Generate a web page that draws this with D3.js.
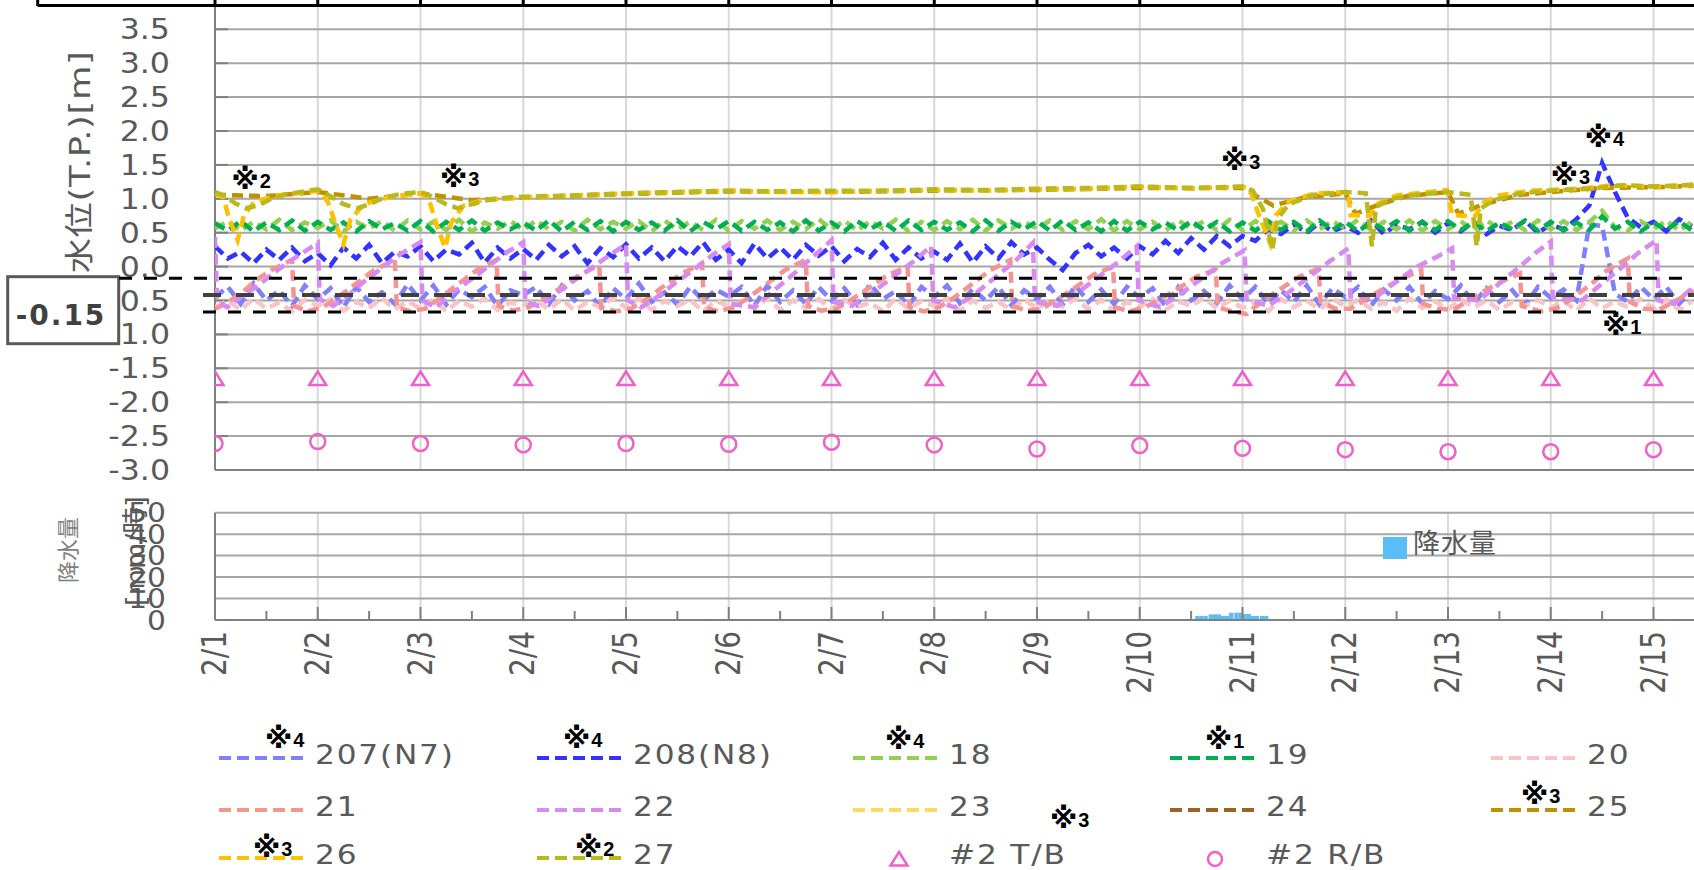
<!DOCTYPE html>
<html>
<head>
<meta charset="utf-8">
<script src="https://cdn.jsdelivr.net/npm/d3@7"></script>
<style>
  body { margin: 0; background: #fff; }
  svg { display: block; }
  text { font-family: "DejaVu Sans", "Noto Sans CJK JP", sans-serif; fill: #595959; }
  .note { font-family: "Liberation Sans", "DejaVu Sans", sans-serif; font-weight: bold; fill: #000; font-size: 20px; }
  .note .mark { font-family: "DejaVu Sans", "Noto Sans CJK JP", sans-serif; font-size: 28px; }
</style>
</head>
<body>
<svg id="chart" width="1694" height="870"></svg>
<script>
// Categories and ticks
var dayLabels = ['2/1','2/2','2/3','2/4','2/5','2/6','2/7','2/8','2/9','2/10','2/11','2/12','2/13','2/14','2/15']
var levelTicks = [3.5, 3.0, 2.5, 2.0, 1.5, 1.0, 0.5, 0.0, -0.5, -1.0, -1.5, -2.0, -2.5, -3.0]
var rainTicks = [50, 40, 30, 20, 10, 0]

// 3-hourly readings (8 per day, from 2/1 0:00)
var s207 = [
  -0.45,-0.30,-0.55,-0.25,-0.50,-0.35,-0.58,-0.28,
  -0.48,-0.32,-0.60,-0.30,-0.52,-0.38,-0.55,-0.26,
  -0.50,-0.28,-0.56,-0.34,-0.45,-0.30,-0.58,-0.35,
  -0.42,-0.30,-0.55,-0.28,-0.50,-0.36,-0.60,-0.32,
  -0.48,-0.25,-0.52,-0.38,-0.56,-0.30,-0.50,-0.34,
  -0.44,-0.30,-0.58,-0.28,-0.52,-0.35,-0.55,-0.30,
  -0.50,-0.32,-0.56,-0.26,-0.48,-0.36,-0.58,-0.30,
  -0.45,-0.28,-0.54,-0.33,-0.50,-0.30,-0.57,-0.35,
  -0.48,-0.30,-0.56,-0.28,-0.52,-0.34,-0.55,-0.30,
  -0.46,-0.32,-0.58,-0.30,-0.50,-0.36,-0.54,-0.28,
  -0.48,-0.30,-0.55,-0.35,-0.52,-0.28,-0.56,-0.32,
  -0.45,-0.30,-0.58,-0.34,-0.50,-0.30,-0.55,-0.36,
  -0.48,-0.28,-0.54,-0.32,-0.52,-0.35,-0.57,-0.30,
  -0.46,-0.34,-0.50,0.62,0.60,-0.40,-0.52,-0.30,
  -0.48,-0.30,-0.55,-0.35
]
var s208 = [
  0.30,0.12,0.22,0.05,0.25,0.10,0.28,0.08,
  0.20,0.02,0.28,0.12,0.32,0.05,0.22,0.15,
  0.30,0.08,0.25,0.18,0.35,0.06,0.28,0.12,
  0.26,0.10,0.32,0.15,0.30,0.05,0.27,0.14,
  0.33,0.12,0.28,0.08,0.30,0.15,0.36,0.10,
  0.25,0.05,0.34,0.12,0.28,0.10,0.32,0.16,
  0.30,0.08,0.26,0.14,0.35,0.10,0.28,0.12,
  0.22,0.10,0.34,0.06,0.30,0.12,0.36,0.18,
  0.28,0.10,-0.05,0.20,0.32,0.15,0.28,0.12,
  0.30,0.18,0.38,0.20,0.42,0.25,0.45,0.30,
  0.45,0.38,0.55,0.48,0.62,0.50,0.65,0.52,
  0.60,0.50,0.68,0.48,0.62,0.55,0.66,0.50,
  0.64,0.52,0.66,0.48,0.60,0.54,0.68,0.50,
  0.62,0.55,0.70,0.90,1.53,1.10,0.72,0.58,
  0.66,0.52,0.70,0.60
]
var s18 = [
  0.56,0.67,0.53,0.66,0.55,0.69,0.54,0.65,
  0.57,0.68,0.52,0.66,0.56,0.67,0.53,0.68,
  0.55,0.66,0.54,0.69,0.52,0.65,0.56,0.67,
  0.54,0.68,0.55,0.66,0.53,0.69,0.55,0.66,
  0.56,0.67,0.52,0.68,0.55,0.66,0.54,0.69,
  0.53,0.67,0.56,0.68,0.54,0.66,0.55,0.70,
  0.55,0.68,0.53,0.67,0.56,0.69,0.52,0.66,
  0.54,0.67,0.55,0.69,0.53,0.68,0.56,0.66,
  0.56,0.68,0.54,0.67,0.55,0.70,0.53,0.67,
  0.55,0.66,0.53,0.68,0.56,0.67,0.54,0.69,
  0.54,0.67,0.56,0.66,0.53,0.68,0.55,0.67,
  0.56,0.69,0.54,0.66,0.55,0.68,0.53,0.67,
  0.55,0.67,0.53,0.68,0.56,0.66,0.54,0.68,
  0.55,0.67,0.54,0.66,0.82,0.58,0.53,0.67,
  0.55,0.68,0.53,0.66
]
var s19 = [
  0.64,0.53,0.67,0.52,0.65,0.54,0.68,0.53,
  0.66,0.54,0.65,0.52,0.67,0.55,0.64,0.53,
  0.67,0.52,0.66,0.54,0.68,0.53,0.65,0.55,
  0.65,0.53,0.68,0.52,0.66,0.54,0.67,0.52,
  0.66,0.54,0.65,0.53,0.68,0.52,0.66,0.55,
  0.67,0.53,0.66,0.54,0.65,0.52,0.68,0.53,
  0.65,0.52,0.67,0.55,0.66,0.53,0.68,0.54,
  0.66,0.54,0.65,0.52,0.68,0.53,0.66,0.55,
  0.67,0.53,0.68,0.54,0.65,0.52,0.67,0.53,
  0.66,0.55,0.65,0.53,0.67,0.54,0.66,0.52,
  0.65,0.53,0.67,0.54,0.66,0.52,0.68,0.54,
  0.66,0.52,0.65,0.55,0.67,0.53,0.66,0.54,
  0.67,0.54,0.66,0.52,0.65,0.55,0.68,0.53,
  0.66,0.53,0.65,0.54,0.74,0.56,0.66,0.52,
  0.65,0.54,0.67,0.53
]
var s20 = [
  -0.60,-0.50,-0.64,-0.47,-0.62,-0.53,-0.66,-0.49,
  -0.58,-0.48,-0.65,-0.52,-0.61,-0.46,-0.63,-0.51,
  -0.62,-0.49,-0.66,-0.50,-0.59,-0.47,-0.64,-0.53,
  -0.57,-0.50,-0.63,-0.48,-0.65,-0.52,-0.60,-0.46,
  -0.61,-0.47,-0.64,-0.51,-0.58,-0.49,-0.66,-0.50,
  -0.59,-0.52,-0.62,-0.46,-0.64,-0.50,-0.61,-0.48,
  -0.63,-0.49,-0.60,-0.53,-0.66,-0.47,-0.62,-0.51,
  -0.58,-0.46,-0.65,-0.50,-0.61,-0.52,-0.64,-0.48,
  -0.62,-0.50,-0.59,-0.47,-0.63,-0.49,-0.66,-0.52,
  -0.60,-0.48,-0.64,-0.51,-0.58,-0.46,-0.62,-0.50,
  -0.61,-0.52,-0.66,-0.48,-0.60,-0.50,-0.63,-0.47,
  -0.59,-0.49,-0.62,-0.53,-0.65,-0.47,-0.61,-0.51,
  -0.63,-0.48,-0.60,-0.50,-0.64,-0.52,-0.58,-0.49,
  -0.61,-0.50,-0.65,-0.47,-0.62,-0.51,-0.60,-0.48,
  -0.62,-0.49,-0.64,-0.51
]

// [day, level] vertices for the sawtooth / drawdown wells
var s21 = [
  [0.00,-0.62],[0.10,-0.55],[0.25,-0.40],[0.40,-0.20],[0.55,-0.05],[0.75,0.10],[0.77,-0.58],[0.90,-0.66],[1.05,-0.60],
  [1.20,-0.45],[1.40,-0.22],[1.55,-0.05],[1.75,0.10],[1.77,-0.60],[1.90,-0.66],[2.05,-0.62],
  [2.20,-0.45],[2.40,-0.22],[2.55,-0.05],[2.74,0.10],[2.76,-0.58],[2.90,-0.65],[3.05,-0.60],
  [3.20,-0.48],[3.40,-0.28],[3.55,-0.12],[3.74,0.02],[3.76,-0.60],[3.90,-0.66],[4.05,-0.62],
  [4.20,-0.48],[4.40,-0.25],[4.55,-0.10],[4.74,0.05],[4.76,-0.60],[4.90,-0.66],[5.05,-0.60],
  [5.20,-0.45],[5.40,-0.22],[5.55,-0.05],[5.75,0.10],[5.77,-0.58],[5.90,-0.65],[6.05,-0.62],
  [6.20,-0.48],[6.40,-0.28],[6.55,-0.12],[6.74,0.00],[6.76,-0.60],[6.90,-0.66],[7.05,-0.60],
  [7.20,-0.45],[7.40,-0.22],[7.55,-0.05],[7.74,0.10],[7.76,-0.58],[7.90,-0.65],[8.05,-0.62],
  [8.20,-0.48],[8.40,-0.28],[8.55,-0.12],[8.74,0.00],[8.76,-0.60],[8.90,-0.66],[9.05,-0.60],
  [9.20,-0.48],[9.40,-0.30],[9.55,-0.15],[9.74,-0.05],[9.76,-0.60],[9.90,-0.66],[10.04,-0.70],
  [10.20,-0.50],[10.40,-0.30],[10.55,-0.15],[10.74,-0.03],[10.76,-0.52],[10.90,-0.62],[11.05,-0.62],
  [11.20,-0.48],[11.40,-0.30],[11.55,-0.18],[11.74,-0.05],[11.76,-0.55],[11.90,-0.62],[12.05,-0.64],
  [12.20,-0.50],[12.40,-0.32],[12.55,-0.20],[12.70,-0.10],[12.72,-0.58],[12.90,-0.66],[13.05,-0.62],
  [13.20,-0.48],[13.40,-0.25],[13.55,-0.05],[13.75,0.12],[13.77,-0.52],[13.90,-0.62],[14.05,-0.64],
  [14.20,-0.52],[14.39,-0.35]
]
var s22 = [
  [0.00,0.44],[0.02,-0.50],[0.12,-0.60],[0.25,-0.45],[0.40,-0.30],[0.55,-0.12],[0.70,0.05],[0.85,0.20],[1.00,0.35],
  [1.02,-0.48],[1.15,-0.58],[1.30,-0.42],[1.45,-0.22],[1.60,-0.05],[1.80,0.18],[2.00,0.36],
  [2.02,-0.50],[2.15,-0.60],[2.30,-0.40],[2.50,-0.18],[2.70,0.05],[2.85,0.22],[3.00,0.36],
  [3.02,-0.52],[3.15,-0.58],[3.30,-0.42],[3.50,-0.20],[3.70,0.02],[3.85,0.18],[4.00,0.33],
  [4.02,-0.50],[4.15,-0.60],[4.30,-0.45],[4.50,-0.22],[4.70,0.00],[4.85,0.18],[5.00,0.33],
  [5.02,-0.55],[5.25,-0.60],[5.40,-0.40],[5.60,-0.15],[5.80,0.12],[6.00,0.39],
  [6.02,-0.52],[6.20,-0.58],[6.40,-0.38],[6.60,-0.15],[6.80,0.08],[6.97,0.30],
  [6.99,-0.50],[7.20,-0.60],[7.40,-0.40],[7.60,-0.15],[7.80,0.10],[7.96,0.35],
  [7.98,-0.52],[8.20,-0.58],[8.40,-0.38],[8.60,-0.15],[8.80,0.08],[8.97,0.30],
  [8.99,-0.50],[9.20,-0.60],[9.40,-0.40],[9.60,-0.18],[9.80,0.05],[10.02,0.24],
  [10.04,-0.48],[10.25,-0.58],[10.45,-0.38],[10.65,-0.15],[10.85,0.08],[11.03,0.27],
  [11.05,-0.44],[11.30,-0.45],[11.50,-0.22],[11.70,0.00],[11.90,0.15],[12.04,0.27],
  [12.06,-0.46],[12.30,-0.50],[12.50,-0.25],[12.70,0.00],[12.85,0.20],[13.00,0.37],
  [13.02,-0.45],[13.30,-0.50],[13.50,-0.25],[13.70,0.00],[13.85,0.20],[14.03,0.39],
  [14.05,-0.50],[14.20,-0.55],[14.39,-0.30]
]
var s23 = []
var s24 = []
var s25 = [
  [0.00,1.06],[0.50,1.04],[1.00,1.10],[1.50,1.00],[2.00,1.08],[2.50,0.98],[3.00,1.02],[4.00,1.07],
  [5.00,1.11],[6.00,1.10],[7.00,1.12],[8.00,1.13],[9.00,1.16],[10.00,1.16],[10.30,0.90],[10.60,1.02],
  [11.00,1.08],[11.10,0.78],[11.30,0.90],[11.60,1.04],[12.00,1.10],[12.10,0.78],[12.35,0.92],[12.70,1.06],
  [13.00,1.10],[13.50,1.16],[14.00,1.17],[14.39,1.19]
]
var s26 = [
  [0.00,1.08],[0.08,1.02],[0.14,0.70],[0.22,0.39],[0.28,0.75],[0.38,0.95],[0.60,1.05],[0.90,1.10],
  [1.02,1.12],[1.10,0.95],[1.18,0.60],[1.25,0.33],[1.32,0.70],[1.45,0.92],[1.70,1.03],[2.00,1.08],
  [2.08,1.00],[2.16,0.60],[2.24,0.28],[2.30,0.65],[2.42,0.90],[2.60,0.98],[3.00,1.02],[3.50,1.05],
  [4.00,1.08],[4.50,1.10],[5.00,1.12],[5.50,1.10],[6.00,1.10],[6.50,1.12],[7.00,1.13],[7.50,1.12],
  [8.00,1.14],[8.50,1.15],[9.00,1.18],[9.50,1.15],[10.00,1.18],[10.07,1.15],[10.15,0.80],[10.27,0.34],
  [10.32,0.75],[10.45,0.96],[10.70,1.08],[11.03,1.10],[11.05,0.76],[11.24,0.75],[11.32,0.93],[11.50,1.05],
  [11.99,1.13],[12.04,0.76],[12.26,0.74],[12.35,0.95],[12.50,1.05],[12.80,1.12],[13.30,1.15],[13.60,1.20],
  [14.00,1.18],[14.39,1.20]
]
var s27 = [
  [0.00,1.10],[0.10,1.04],[0.20,0.93],[0.30,0.86],[0.42,0.90],[0.55,1.00],[0.70,1.07],[1.00,1.14],
  [1.10,1.06],[1.25,0.92],[1.38,0.86],[1.50,0.92],[1.65,1.02],[1.80,1.07],[2.00,1.10],
  [2.10,1.04],[2.25,0.92],[2.36,0.86],[2.50,0.92],[2.65,0.98],[2.85,1.02],[3.20,1.04],
  [3.50,1.05],[4.00,1.08],[4.50,1.10],[5.00,1.12],[5.50,1.11],[6.00,1.12],[6.50,1.12],[7.00,1.14],
  [7.50,1.13],[8.00,1.15],[8.50,1.16],[9.00,1.18],[9.50,1.16],[10.00,1.18],
  [10.10,1.12],[10.20,0.85],[10.29,0.25],[10.34,0.70],[10.45,0.92],[10.70,1.06],[11.00,1.10],[11.20,1.08],
  [11.26,0.30],[11.30,0.88],[11.45,1.00],[11.70,1.06],[12.00,1.10],[12.22,1.06],[12.28,0.30],[12.32,0.86],
  [12.45,0.98],[12.70,1.08],[13.00,1.12],[13.40,1.15],[13.70,1.20],[14.00,1.18],[14.39,1.21]
]

// daily manual readings
var tbLevels = [-1.65,-1.65,-1.65,-1.65,-1.65,-1.65,-1.65,-1.65,-1.65,-1.65,-1.65,-1.65,-1.65,-1.65,-1.65]
var rbLevels = [-2.61,-2.58,-2.61,-2.63,-2.61,-2.62,-2.59,-2.63,-2.69,-2.64,-2.68,-2.70,-2.73,-2.73,-2.70]

// hourly rainfall (day, mm/h)
var rainDays = [9.54,9.58,9.62,9.67,9.71,9.75,9.79,9.83,9.87,9.92,9.96,10.00,10.04,10.08,10.12,10.17,10.21]
var rainMm = [1.9,1.9,1.9,2.6,2.6,2.6,1.9,1.9,3.4,3.4,3.4,2.8,2.8,1.9,1.9,1.9,1.9]

// reference levels
var refLevels = [-0.17, -0.42, -0.67]

var series = [
  { name: '207(N7)', color: '#8080ff', data: s207 },
  { name: '208(N8)', color: '#3333ff', data: s208 },
  { name: '18', color: '#92d050', data: s18 },
  { name: '19', color: '#00b050', data: s19 },
  { name: '20', color: '#f9c4c4', data: s20 },
  { name: '21', color: '#f59490', data: s21 },
  { name: '22', color: '#d98af0', data: s22 },
  { name: '23', color: '#ffd966', data: s23 },
  { name: '24', color: '#9c6127', data: s24 },
  { name: '25', color: '#bf9000', data: s25 },
  { name: '26', color: '#ffc000', data: s26 },
  { name: '27', color: '#b9b91c', data: s27 }
]
// 3-hourly arrays -> [day, value]
series.forEach(function(s) {
  if (s.data.length && !Array.isArray(s.data[0])) {
    s.data = s.data.map(function(v, i) { return [i / 8, v] })
  }
})

var W = 1694
var svg = d3.select('#chart')
var x = d3.scaleLinear().domain([0, 14]).range([215, 1653.5])
var y = d3.scaleLinear().domain([3.5, -3.0]).range([29.3, 470])
var yr = d3.scaleLinear().domain([0, 50]).range([620, 512.7])
var days = d3.range(dayLabels.length)
var pink = '#f060c8'

// ※ notes: big mark + digit
function note(sel) {
  sel.attr('class', 'note')
  sel.append('tspan').attr('class', 'mark').attr('dy', 1).text(function(d) { return d[0].charAt(0) })
  sel.append('tspan').attr('dx', 1).attr('dy', -1).text(function(d) { return d[0].slice(1) })
}

// table border above the chart
svg.append('line').attr('x1', 37.7).attr('x2', W).attr('y1', 5.5).attr('y2', 5.5)
  .attr('stroke', '#000').attr('stroke-width', 3)
svg.selectAll('.tcol').data([-1].concat(days)).enter().append('line')
  .attr('x1', function(d) { return d < 0 ? 37.7 : x(d) })
  .attr('x2', function(d) { return d < 0 ? 37.7 : x(d) })
  .attr('y1', 0).attr('y2', 6).attr('stroke', '#000').attr('stroke-width', 3)

// Main plot grid
var g = svg.append('g')
g.selectAll('.vg').data(days.slice(1)).enter().append('line')
  .attr('x1', x).attr('x2', x).attr('y1', 7).attr('y2', 470)
  .attr('stroke', '#d9d9d9').attr('stroke-width', 2)
g.selectAll('.hg').data(levelTicks).enter().append('line')
  .attr('x1', 215).attr('x2', W).attr('y1', y).attr('y2', y)
  .attr('stroke', function(d) { return d === -3.0 ? '#808080' : '#a6a6a6' })
  .attr('stroke-width', 2)
g.selectAll('.lt').data(levelTicks).enter().append('line')
  .attr('x1', 215).attr('x2', 228).attr('y1', y).attr('y2', y)
  .attr('stroke', '#808080').attr('stroke-width', 2)
g.append('line').attr('x1', 215).attr('x2', 215).attr('y1', 7).attr('y2', 470)
  .attr('stroke', '#808080').attr('stroke-width', 2)

// y tick labels (glyphs a little wide, as in the source)
g.selectAll('.yl').data(levelTicks).enter().append('text')
  .attr('transform', function(d) { return 'translate(170,' + y(d) + ') scale(1.13,1)' })
  .attr('dy', '0.36em').attr('text-anchor', 'end').style('font-size', '28px')
  .text(function(d) { return d.toFixed(1) })

svg.append('text')
  .attr('transform', 'translate(90,162) rotate(-90) scale(1.22,1)')
  .attr('text-anchor', 'middle').style('font-size', '29px').style('letter-spacing', '0.5px')
  .text('水位(T.P.)[m]')

// series
svg.append('clipPath').attr('id', 'clip').append('rect')
  .attr('x', 215).attr('y', 7).attr('width', W - 215).attr('height', 463)
var line = d3.line().x(function(d) { return x(d[0]) }).y(function(d) { return y(d[1]) })
var lines = svg.append('g').attr('clip-path', 'url(#clip)')
lines.selectAll('.series').data(series).enter().append('path')
  .attr('d', function(s) { return s.data.length ? line(s.data) : null })
  .attr('fill', 'none').attr('stroke', function(s) { return s.color })
  .attr('stroke-width', 4.5).attr('stroke-dasharray', '11,6')

// manual measurement markers
var tri = 'M0,-7 L8.5,6.5 L-8.5,6.5 Z'
lines.selectAll('.tb').data(tbLevels).enter().append('path')
  .attr('d', tri)
  .attr('transform', function(d, i) { return 'translate(' + x(i) + ',' + y(d) + ')' })
  .attr('fill', 'none').attr('stroke', pink).attr('stroke-width', 2.5)
lines.selectAll('.rb').data(rbLevels).enter().append('circle')
  .attr('cx', function(d, i) { return x(i) }).attr('cy', y).attr('r', 7.5)
  .attr('fill', 'none').attr('stroke', pink).attr('stroke-width', 2.5)

// -0.15 box over the axis labels
svg.append('rect').attr('x', 7.7).attr('y', 276.7).attr('width', 111).attr('height', 67)
  .attr('fill', '#fff').attr('stroke', '#595959').attr('stroke-width', 3)
svg.append('text').attr('x', 61).attr('y', 325).attr('text-anchor', 'middle')
  .style('font-size', '28px').style('font-weight', 'bold').style('letter-spacing', '2px')
  .style('fill', '#404040').text('-0.15')

// reference levels
svg.selectAll('.ref').data(refLevels).enter().append('line')
  .attr('x1', function(d, i) { return i === 0 ? 119 : 203 }).attr('x2', W)
  .attr('y1', y).attr('y2', y)
  .attr('stroke', function(d, i) { return i === 1 ? '#404040' : '#000' })
  .attr('stroke-width', function(d, i) { return i === 1 ? 4 : 3 })
  .attr('stroke-dasharray', function(d, i) { return i === 1 ? '18,15' : '13,12' })

// notes in the plot
var plotNotes = [['※2', 0.16, 1.16], ['※3', 2.19, 1.19], ['※3', 9.79, 1.44], ['※4', 13.33, 1.78], ['※3', 13.0, 1.22], ['※1', 13.5, -0.99]]
svg.selectAll('.pn').data(plotNotes).enter().append('text')
  .attr('x', function(d) { return x(d[1]) }).attr('y', function(d) { return y(d[2]) })
  .call(note)

// Rainfall plot
var r = svg.append('g')
r.selectAll('.rv').data(days.slice(1)).enter().append('line')
  .attr('x1', x).attr('x2', x).attr('y1', 512.7).attr('y2', 620)
  .attr('stroke', '#d9d9d9').attr('stroke-width', 2)
r.selectAll('.rh').data(rainTicks.slice(0, 5)).enter().append('line')
  .attr('x1', 215).attr('x2', W).attr('y1', yr).attr('y2', yr)
  .attr('stroke', '#a6a6a6').attr('stroke-width', 2)
r.selectAll('.bar').data(rainMm).enter().append('rect')
  .attr('x', function(d, i) { return x(rainDays[i]) })
  .attr('width', x(1 / 24) - x(0))
  .attr('y', yr).attr('height', function(d) { return yr(0) - yr(d) })
  .attr('fill', '#5bbdf6')
r.append('line').attr('x1', 215).attr('x2', 215).attr('y1', 512.7).attr('y2', 620)
  .attr('stroke', '#808080').attr('stroke-width', 2)
r.append('line').attr('x1', 215).attr('x2', W).attr('y1', 620).attr('y2', 620)
  .attr('stroke', '#808080').attr('stroke-width', 2)
r.selectAll('.mt').data(d3.range(0, 14.5, 0.5)).enter().append('line')
  .attr('x1', x).attr('x2', x)
  .attr('y1', function(d) { return d % 1 === 0 ? 607 : 611 }).attr('y2', 620)
  .attr('stroke', '#808080').attr('stroke-width', 2)

r.selectAll('.ryl').data(rainTicks).enter().append('text')
  .attr('transform', function(d) { return 'translate(166,' + yr(d) + ') scale(1.1,1)' })
  .attr('dy', '0.36em').attr('text-anchor', 'end').style('font-size', '27px')
  .text(function(d) { return d })
r.append('text').attr('transform', 'translate(145,551) rotate(-90)')
  .attr('text-anchor', 'middle').style('font-size', '27px').text('[mm/時]')
r.append('text').attr('transform', 'translate(76,550) rotate(-90)')
  .attr('text-anchor', 'middle').style('font-size', '22px').style('fill', '#7f7f7f').text('降水量')

r.append('rect').attr('x', 1383).attr('y', 537).attr('width', 24).attr('height', 22).attr('fill', '#5bbdf6')
r.append('text').attr('x', 1413).attr('y', 553).style('font-size', '27px').style('letter-spacing', '1px').text('降水量')

// x labels
svg.selectAll('.xl').data(dayLabels).enter().append('text')
  .attr('transform', function(d, i) { return 'translate(' + (x(i) + 11) + ',631) rotate(-90) scale(1,1.2)' })
  .attr('text-anchor', 'end').style('font-size', '28px')
  .text(function(d) { return d })

// Legend
var legCols = [219, 537, 853, 1170, 1491]
var legRows = [758, 810, 858]
var legItems = series.map(function(s) { return { name: s.name, color: s.color, kind: 'line' } })
  .concat([{ name: '#2 T/B', kind: 'tri' }, { name: '#2 R/B', kind: 'circle' }])
var leg = svg.selectAll('.leg').data(legItems).enter().append('g')
  .attr('transform', function(d, i) { return 'translate(' + legCols[i % 5] + ',' + legRows[Math.floor(i / 5)] + ')' })
leg.filter(function(d) { return d.kind === 'line' }).append('line')
  .attr('x1', 0).attr('x2', 86).attr('y1', 0).attr('y2', 0)
  .attr('stroke', function(d) { return d.color }).attr('stroke-width', 4).attr('stroke-dasharray', '12,6')
leg.filter(function(d) { return d.kind === 'tri' }).append('path')
  .attr('d', tri).attr('transform', 'translate(46,1)')
  .attr('fill', 'none').attr('stroke', pink).attr('stroke-width', 2.5)
leg.filter(function(d) { return d.kind === 'circle' }).append('circle')
  .attr('cx', 45).attr('cy', 1).attr('r', 7)
  .attr('fill', 'none').attr('stroke', pink).attr('stroke-width', 2.5)
leg.append('text').attr('transform', 'translate(96,6) scale(1.2,1)')
  .style('font-size', '26px').style('letter-spacing', '1.5px')
  .text(function(d) { return d.name })

var legNotes = [['※4', 265, 747], ['※4', 563, 747], ['※4', 885, 748], ['※1', 1205, 748],
  ['※3', 1521, 803], ['※3', 1050, 827], ['※3', 253, 856], ['※2', 575, 856]]
svg.selectAll('.ln').data(legNotes).enter().append('text')
  .attr('x', function(d) { return d[1] }).attr('y', function(d) { return d[2] })
  .call(note)
</script>
</body>
</html>
